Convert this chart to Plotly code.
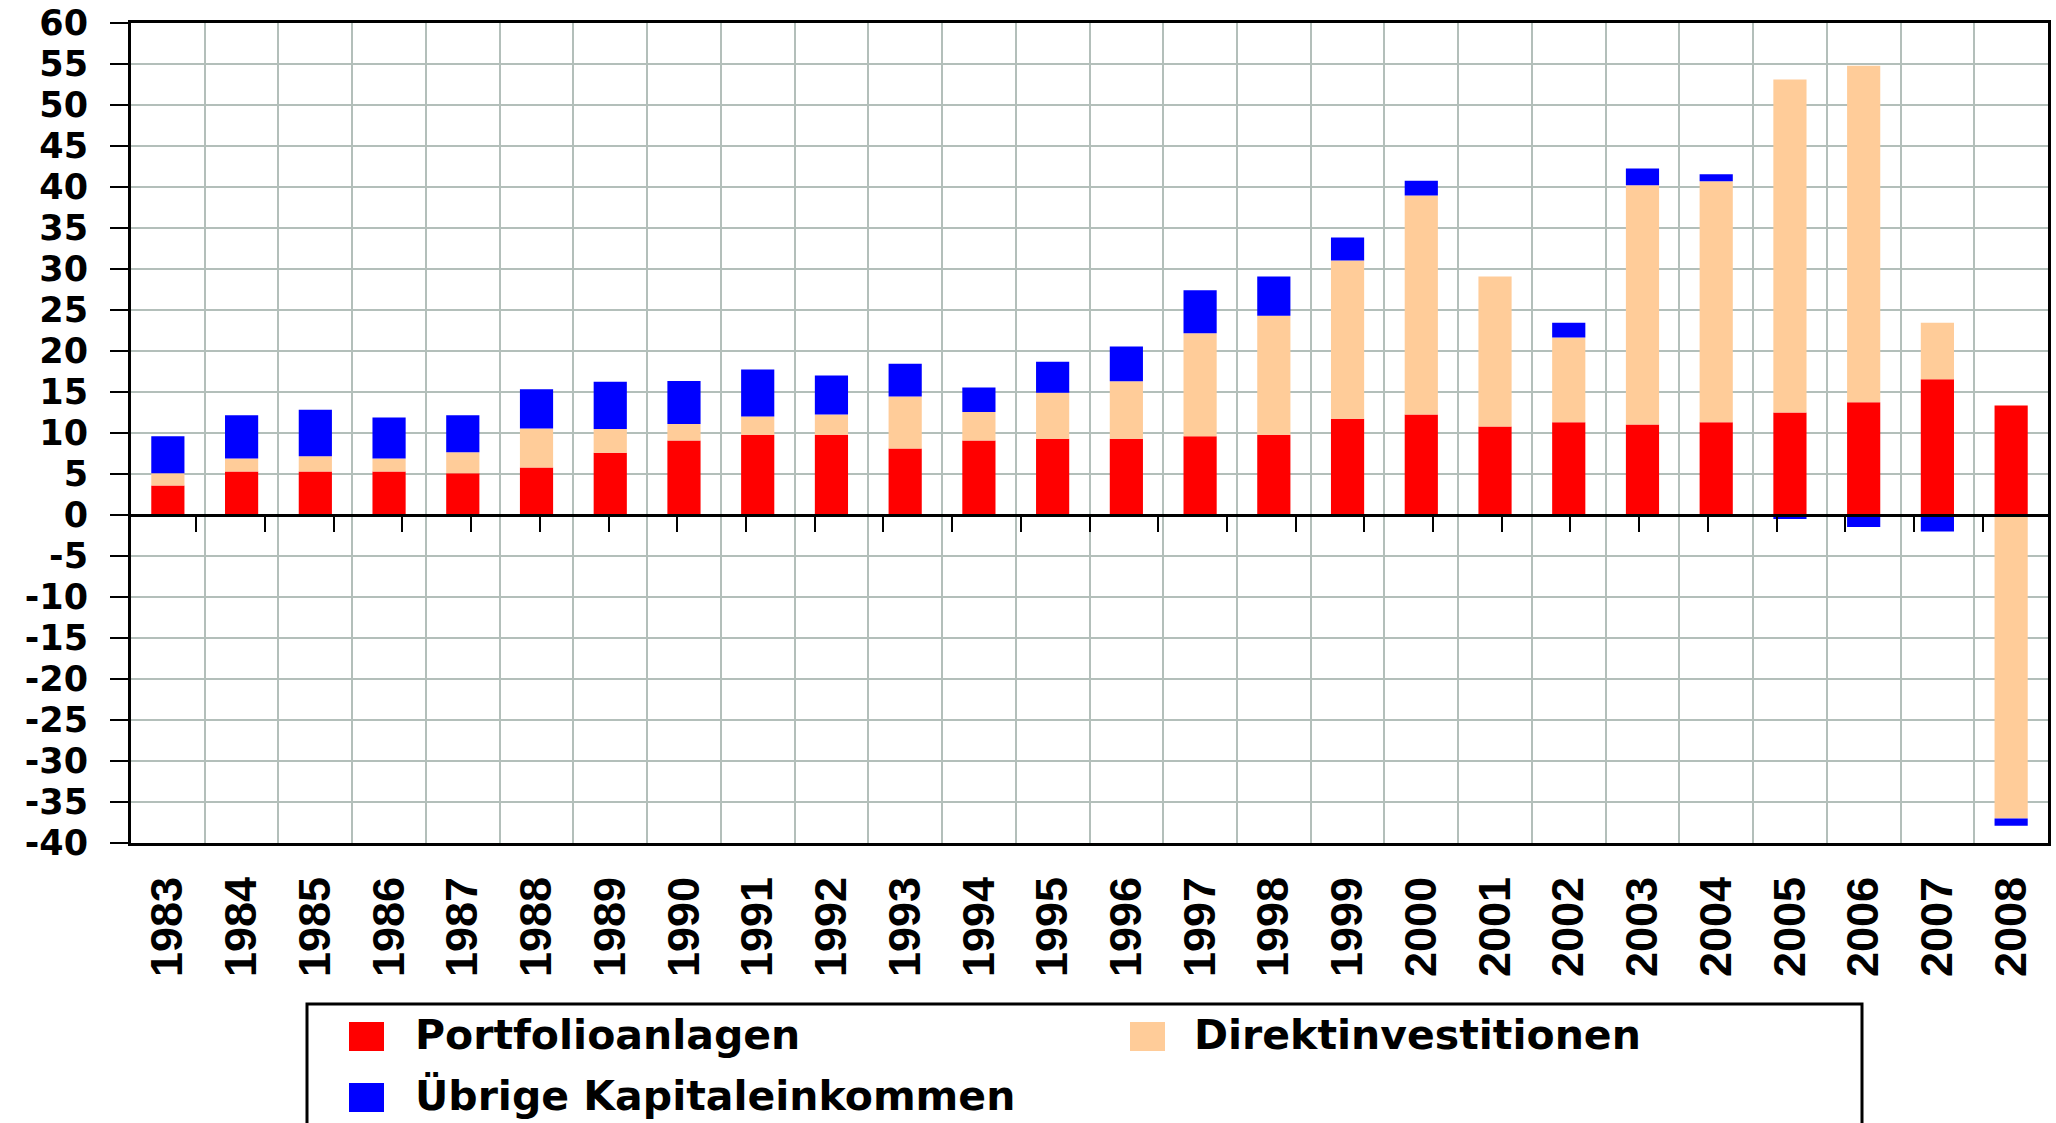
import plotly.graph_objects as go

# ---------------- data ----------------
YEARS = ["1983", "1984", "1985", "1986", "1987", "1988", "1989", "1990", "1991",
         "1992", "1993", "1994", "1995", "1996", "1997", "1998", "1999", "2000",
         "2001", "2002", "2003", "2004", "2005", "2006", "2007", "2008"]

SERIES_NAMES = ["Portfolioanlagen", "Direktinvestitionen", "Übrige Kapitaleinkommen"]

PORTFOLIO = [3.6, 5.3, 5.3, 5.3, 5.1, 5.8, 7.6, 9.1, 9.8, 9.8, 8.1, 9.1, 9.3,
             9.3, 9.6, 9.8, 11.75, 12.25, 10.8, 11.3, 11.05, 11.3, 12.5, 13.75,
             16.55, 13.35]
DIREKT = [1.5, 1.6, 1.85, 1.6, 2.55, 4.75, 2.9, 2.0, 2.2, 2.45, 6.35, 3.45, 5.6,
          7.0, 12.55, 14.5, 19.3, 26.7, 18.3, 10.35, 29.15, 29.4, 40.6, 41.05,
          6.9, -37.0]
UEBRIGE = [4.5, 5.25, 5.7, 5.0, 4.5, 4.8, 5.75, 5.25, 5.75, 4.75, 4.0, 3.0, 3.8,
           4.25, 5.25, 4.8, 2.8, 1.8, 0.0, 1.8, 2.05, 0.85, -0.5, -1.45, -2.0,
           -0.9]

Y_TICKVALS = [-40, -35, -30, -25, -20, -15, -10, -5, 0, 5, 10, 15, 20, 25, 30,
              35, 40, 45, 50, 55, 60]
Y_TICKTEXT = ["-40", "-35", "-30", "-25", "-20", "-15", "-10", "-5", "0", "5",
              "10", "15", "20", "25", "30", "35", "40", "45", "50", "55", "60"]

COLORS = ["#FF0000", "#FFCC99", "#0000FF"]

# ---------------- figure geometry ----------------
FIG_W, FIG_H = 2056, 1123
PL, PR, PT, PB = 131, 2048, 23, 843
GRID = "#B3BFBA"


def px2x(px):
    return (px - PL) / (PR - PL)


def px2y(py):
    return (PB - py) / (PB - PT)


fig = go.Figure()
for name, vals, col in zip(SERIES_NAMES, [PORTFOLIO, DIREKT, UEBRIGE], COLORS):
    fig.add_trace(go.Bar(x=YEARS, y=vals, name=name, marker_color=col,
                         marker_line_width=0, showlegend=False))

# invisible helper trace so that the zero-line axis (x2) exists
fig.add_trace(go.Scatter(x=YEARS, y=PORTFOLIO, xaxis="x2", mode="markers",
                         marker=dict(opacity=0), hoverinfo="skip",
                         showlegend=False))

fig.update_layout(
    width=FIG_W, height=FIG_H,
    margin=dict(l=PL, r=FIG_W - PR, t=PT, b=FIG_H - PB, pad=0, autoexpand=False),
    paper_bgcolor="white", plot_bgcolor="white",
    barmode="relative", bargap=0.55,
    showlegend=False,
    xaxis=dict(
        type="category", categoryorder="array", categoryarray=YEARS,
        tickson="boundaries", showgrid=True, gridcolor=GRID, gridwidth=2,
        ticks="", tickangle=-90,
        tickfont=dict(family="Liberation Sans, Arial", size=45, color="black",
                      weight="bold"),
        ticklabelstandoff=13,
        showline=True, linecolor="black", linewidth=3, mirror=True,
        zeroline=False,
    ),
    xaxis2=dict(
        type="category", categoryorder="array", categoryarray=YEARS,
        overlaying="x", anchor="free", position=0.4,
        tickson="boundaries", ticks="outside", ticklen=15, tickwidth=2,
        tickcolor="black", showticklabels=False, showgrid=False,
        showline=True, linecolor="black", linewidth=3, layer="above traces",
        zeroline=False,
    ),
    yaxis=dict(
        range=[-40, 60], tickmode="array", tickvals=Y_TICKVALS,
        ticktext=Y_TICKTEXT, ticks="outside", ticklen=18, tickwidth=2,
        tickcolor="black", showgrid=True, gridcolor=GRID, gridwidth=2,
        showline=True, linecolor="black", linewidth=3, mirror=True,
        zeroline=False, ticklabeloverflow="allow",
        tickfont=dict(family="DejaVu Sans", size=35, color="black",
                      weight="bold"),
        ticklabelstandoff=15,
    ),
)

# ---------------- manual legend ----------------
shapes = [dict(type="rect", xref="paper", yref="paper",
               x0=px2x(307), x1=px2x(1862), y0=px2y(1004), y1=px2y(1140),
               line=dict(color="black", width=3), fillcolor="rgba(0,0,0,0)")]
legend_pos = [(349, 1022, 413), (1130, 1022, 1192), (349, 1083, 413)]
annotations = []
for name, col, (sx, sy, tx) in zip(SERIES_NAMES, COLORS, legend_pos):
    shapes.append(dict(type="rect", xref="paper", yref="paper",
                       x0=px2x(sx), x1=px2x(sx + 35), y0=px2y(sy),
                       y1=px2y(sy + 29), line=dict(width=0), fillcolor=col))
    annotations.append(dict(xref="paper", yref="paper", x=px2x(tx),
                            y=px2y(sy + 13), xanchor="left", yanchor="middle",
                            text=name, showarrow=False,
                            font=dict(family="DejaVu Sans", size=41,
                                      color="black", weight="bold")))
fig.update_layout(shapes=shapes, annotations=annotations)

fig.write_html("out.html", config={"displayModeBar": False},
               post_script="document.body.style.margin='0';")
